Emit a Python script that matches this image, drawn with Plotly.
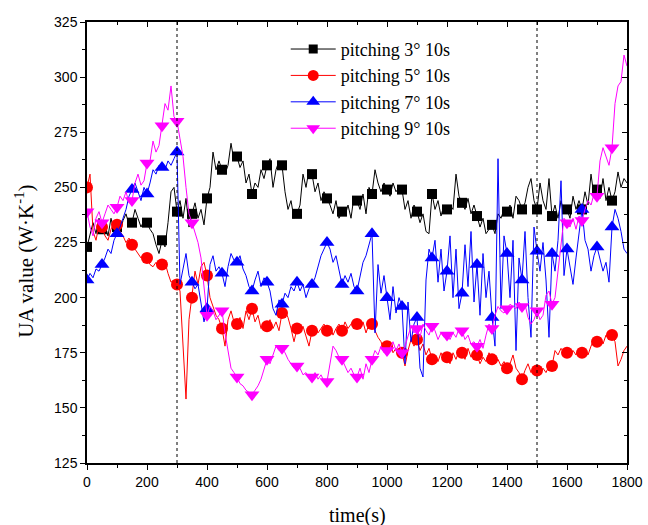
import plotly.graph_objects as go

TIME = list(range(0, 1801, 10))

UA_3 = [223,228,234,229,236,231,233,228,236,230,232,229,235,238,233,234,240,236,232,235,234,231,229,224,220,226,223,234,248,250,239,
        244,236,245,232,238,243,236,240,233,245,250,266,258,262,258,256,260,270,262,264,259,262,252,256,247,252,250,258,254,260,
        263,250,258,262,260,248,240,244,236,238,242,256,250,258,256,248,252,244,248,245,242,238,244,236,239,237,242,236,246,244,
        240,247,238,250,247,258,252,248,252,249,246,252,248,250,249,240,244,236,242,239,234,238,230,229,247,240,244,237,242,240,
        242,240,256,246,243,240,245,238,242,237,232,236,229,231,233,229,238,236,240,239,242,236,246,244,240,243,250,254,244,240,
        252,244,240,254,237,242,236,244,238,240,236,246,240,244,240,248,242,256,246,249,245,254,244,250,244,248,257,250,254,252]

UA_5 = [250,256,230,226,233,232,228,226,231,234,233,230,228,225,227,224,222,220,218,220,218,215,214,216,213,215,216,211,207,208,206,
        203,180,154,190,200,212,206,214,216,210,200,196,192,190,186,178,190,194,189,188,191,186,194,190,195,189,192,186,188,187,
        190,186,189,185,193,194,191,186,180,186,184,187,183,178,185,187,184,186,188,185,187,183,186,188,185,189,186,188,190,188,
        186,189,184,188,188,185,182,180,176,178,180,175,177,173,175,169,176,181,178,181,176,179,174,177,172,174,171,175,172,173,
        170,175,172,176,175,172,177,173,175,174,170,173,171,175,172,170,172,169,171,168,170,174,168,166,163,167,170,166,168,167,
        165,168,166,169,169,176,174,177,175,175,173,176,174,177,175,176,174,178,181,180,182,179,183,181,183,180,169,172,176,178]

UA_7 = [208,211,209,213,212,215,218,222,220,226,229,232,236,240,246,249,252,248,244,250,247,252,258,256,260,259,258,262,260,263,266,
        206,214,220,210,207,204,206,198,189,195,215,219,212,214,211,205,214,220,217,216,219,213,210,205,203,208,212,205,209,207,
        203,195,192,199,197,202,200,205,203,207,203,206,200,204,206,209,214,219,222,225,222,216,219,212,206,210,207,211,205,203,
        210,216,219,224,229,184,215,202,210,200,190,205,193,200,196,170,198,180,188,191,168,164,208,222,218,226,207,222,203,212,
        228,200,222,195,202,224,205,230,198,215,192,220,200,212,191,178,263,195,228,220,200,226,176,218,208,230,200,182,232,221,
        212,225,208,182,220,212,226,253,210,222,214,206,218,228,240,226,222,212,219,223,218,212,216,207,232,240,236,230,222,220]

UA_9 = [239,232,228,236,239,234,238,242,240,238,241,246,244,248,243,244,252,256,251,253,261,262,271,266,269,278,288,285,296,282,280,
        272,264,250,238,234,229,225,218,204,192,196,194,190,192,194,184,176,168,166,164,161,160,158,157,156,158,160,163,168,172,
        170,174,178,176,177,175,172,170,168,169,168,165,166,164,164,166,163,165,162,162,170,178,176,173,172,169,166,168,165,164,
        168,163,170,166,172,176,174,178,175,176,177,180,176,179,175,178,182,187,184,186,182,188,185,183,187,185,181,184,182,183,
        181,184,182,186,185,181,183,179,180,178,181,177,183,188,186,192,196,194,193,195,197,196,195,198,196,197,191,188,190,194,
        190,192,201,203,197,200,212,226,236,234,232,236,231,237,235,240,244,242,247,246,262,268,264,260,268,288,296,298,310,305]

NAMES = ["pitching 3° 10s", "pitching 5° 10s", "pitching 7° 10s", "pitching 9° 10s"]
MARK_TIMES = TIME[0:176:5]
PHASE_LINES = [300, 1500]
Y_TITLE = "UA value (W·K<sup>-1</sup>)"
X_TITLE = "time(s)"

series = [UA_3, UA_5, UA_7, UA_9]
for s in series:
    assert len(s) == len(TIME), len(s)

colors = ["#000000", "#FF0000", "#0000FF", "#FF00FF"]
symbols = ["square", "circle", "triangle-up", "triangle-down"]
sizes = [10, 12, 13, 13]

fig = go.Figure()
for vals, name, c, sym, sz in zip(series, NAMES, colors, symbols, sizes):
    fig.add_trace(go.Scatter(x=TIME, y=vals, mode="lines", line=dict(color=c, width=1),
                             showlegend=False, hoverinfo="skip"))
    fig.add_trace(go.Scatter(x=MARK_TIMES, y=vals[0:176:5], mode="markers",
                             marker=dict(color=c, symbol=sym, size=sz, line=dict(width=0)),
                             showlegend=False))
for name, c, sym, sz in zip(NAMES, colors, symbols, sizes):
    fig.add_trace(go.Scatter(x=[None], y=[None], mode="lines+markers", name=name,
                             line=dict(color=c, width=1),
                             marker=dict(color=c, symbol=sym, size=sz - 1, line=dict(width=0))))

fig.add_trace(go.Scatter(x=[None], y=[None], xaxis="x2", yaxis="y2", showlegend=False))

for xv in PHASE_LINES:
    fig.add_shape(type="line", x0=xv, x1=xv, y0=0, y1=1, xref="x", yref="paper",
                  line=dict(color="black", width=1, dash="dot"))

tickfont = dict(family="Liberation Sans, Arial", size=14, color="black")
xtitlefont = dict(family="Liberation Serif, Times New Roman", size=20, color="black")
ytitlefont = dict(family="Liberation Serif, Times New Roman", size=21, color="black")

fig.add_annotation(text=Y_TITLE, textangle=-90, xref="paper", yref="paper",
                   x=-0.117, y=0.458, xanchor="center", yanchor="middle",
                   showarrow=False, font=ytitlefont)
fig.add_annotation(text=X_TITLE, xref="paper", yref="paper",
                   x=0.5, y=-0.118, xanchor="center", yanchor="middle",
                   showarrow=False, font=xtitlefont)

fig.update_layout(
    width=648, height=525,
    margin=dict(l=87, r=21, t=22, b=62, autoexpand=False),
    paper_bgcolor="white", plot_bgcolor="white",
    xaxis=dict(range=[0, 1800], tickmode="array", tickvals=list(range(0, 1801, 200)),
               ticks="outside", ticklen=5, tickwidth=1, tickcolor="black",
               minor=dict(tickvals=list(range(100, 1800, 200)), ticks="outside", ticklen=3, tickcolor="black"),
               showline=True, linecolor="black", linewidth=1.5, mirror=True, automargin=False,
               showgrid=False, zeroline=False, tickfont=tickfont),
    yaxis=dict(range=[125, 325], tickmode="array", tickvals=list(range(125, 326, 25)),
               ticks="outside", ticklen=5, tickwidth=1, tickcolor="black",
               minor=dict(tickvals=[137.5 + 25 * k for k in range(8)], ticks="outside", ticklen=3, tickcolor="black"),
               showline=True, linecolor="black", linewidth=1.5, mirror=True, automargin=False,
               showgrid=False, zeroline=False, tickfont=tickfont),
    xaxis2=dict(overlaying="x", side="top", range=[0, 1800], tickvals=list(range(0, 1801, 200)),
                ticks="inside", ticklen=5, tickcolor="black", showticklabels=False,
                minor=dict(tickvals=list(range(100, 1800, 200)), ticks="inside", ticklen=3, tickcolor="black"),
                showline=False, showgrid=False, zeroline=False, automargin=False),
    yaxis2=dict(overlaying="y", side="right", range=[125, 325], tickvals=list(range(125, 326, 25)),
                ticks="inside", ticklen=5, tickcolor="black", showticklabels=False,
                minor=dict(tickvals=[137.5 + 25 * k for k in range(8)], ticks="inside", ticklen=3, tickcolor="black"),
                showline=False, showgrid=False, zeroline=False, automargin=False),
    legend=dict(x=0.368, y=0.98, xanchor="left", yanchor="top", itemwidth=45,
                font=dict(family="Liberation Serif, Times New Roman", size=18, color="black"),
                bgcolor="rgba(0,0,0,0)", borderwidth=0, tracegroupgap=0),
    showlegend=True,
)

fig.write_html("out.html")
